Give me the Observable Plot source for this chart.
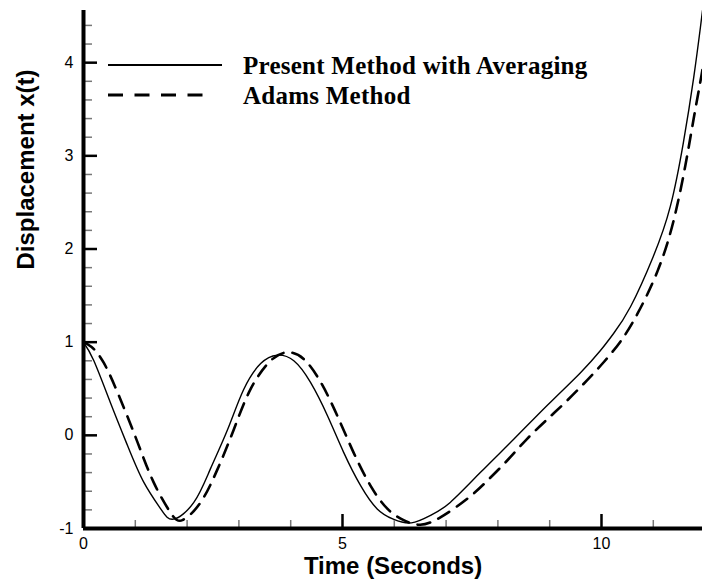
<!DOCTYPE html>
<html>
<head>
<meta charset="utf-8">
<script src="https://cdn.jsdelivr.net/npm/d3@7"></script>
<script src="https://cdn.jsdelivr.net/npm/@observablehq/plot@0.6"></script>
<style>
  html, body { margin: 0; padding: 0; background: #fff; }
  #wrap { position: relative; width: 702px; height: 581px; overflow: hidden; }
  #legend { position: absolute; left: 0; top: 0; }
</style>
</head>
<body>
<div id="wrap"></div>
<script>
// ---- data ----
const seriesNames = ["Present Method with Averaging", "Adams Method"];
const timeSolid = [0, 0.2, 0.52, 0.85, 1.16, 1.49, 1.74, 2.13, 2.45, 2.78, 3.09, 3.42, 3.74, 4.06, 4.38, 4.71, 5.02, 5.35, 5.67, 5.98, 6.33, 6.7, 7.08, 7.66, 8.31, 8.95, 9.59, 9.98, 10.23, 10.56, 11.0, 11.33, 11.58, 11.78, 11.91, 11.95];
const dispSolid = [1.0, 0.8, 0.35, -0.11, -0.5, -0.79, -0.9, -0.72, -0.36, 0.06, 0.49, 0.77, 0.86, 0.8, 0.57, 0.21, -0.18, -0.54, -0.79, -0.9, -0.94, -0.86, -0.72, -0.4, -0.04, 0.32, 0.67, 0.91, 1.09, 1.38, 1.92, 2.46, 3.14, 3.84, 4.38, 4.56];
const timeAdams = [0, 0.15, 0.39, 0.71, 1.04, 1.35, 1.68, 1.91, 2.26, 2.59, 2.9, 3.22, 3.61, 3.94, 4.25, 4.58, 4.9, 5.21, 5.54, 5.87, 6.18, 6.5, 6.89, 7.41, 7.79, 8.18, 8.56, 8.95, 9.33, 9.72, 10.05, 10.37, 10.69, 11.08, 11.39, 11.62, 11.78, 11.91, 11.95];
const dispAdams = [1.0, 0.95, 0.78, 0.39, -0.07, -0.5, -0.83, -0.91, -0.72, -0.36, 0.06, 0.49, 0.8, 0.89, 0.82, 0.57, 0.21, -0.18, -0.54, -0.79, -0.91, -0.96, -0.88, -0.68, -0.49, -0.27, -0.04, 0.17, 0.37, 0.59, 0.79, 1.01, 1.3, 1.76, 2.3, 2.9, 3.4, 3.8, 3.93];
const xMajor = [0, 5, 10];
const xMinor = [1, 2, 3, 4, 6, 7, 8, 9, 11];
const yMajor = [-1, 0, 1, 2, 3, 4];
const yMinor = [-0.8, -0.6, -0.4, -0.2, 0.2, 0.4, 0.6, 0.8, 1.2, 1.4, 1.6, 1.8, 2.2, 2.4, 2.6, 2.8, 3.2, 3.4, 3.6, 3.8, 4.2, 4.4];
const xTitle = "Time (Seconds)";
const yTitle = "Displacement x(t)";

const solid = timeSolid.map((t, i) => ({t, v: dispSolid[i]}));
const adams = timeAdams.map((t, i) => ({t, v: dispAdams[i]}));

const chart = Plot.plot({
  width: 702,
  height: 581,
  marginLeft: 83,
  marginRight: 0,
  marginTop: 10,
  marginBottom: 53,
  style: {fontFamily: "'Liberation Sans', Arial, Helvetica, sans-serif", fontSize: "16px", background: "#fff", color: "#000", overflow: "visible"},
  x: {domain: [0, 11.95], ticks: xMajor, tickSize: 0, tickPadding: 9, tickFormat: d => String(d), label: null},
  y: {domain: [-1, 4.56], ticks: yMajor, tickSize: 0, tickPadding: 10, tickFormat: d => String(d), label: null},
  marks: [
    Plot.line(solid, {x: "t", y: "v", stroke: "#000", strokeWidth: 1.4, curve: "natural", clip: true}),
    Plot.line(adams, {x: "t", y: "v", stroke: "#000", strokeWidth: 2.6, strokeDasharray: "13,9", curve: "natural", clip: true}),
    Plot.ruleY(yMinor, {x1: 0, x2: 0, insetRight: -9, stroke: "#777", strokeWidth: 1.5}),
    Plot.ruleY(yMajor, {x1: 0, x2: 0, insetRight: -14, stroke: "#000", strokeWidth: 2.5}),
    Plot.ruleX(xMinor, {y1: -1, y2: -1, insetBottom: 8, stroke: "#777", strokeWidth: 1.5}),
    Plot.ruleX(xMajor, {y1: -1, y2: -1, insetBottom: 14, stroke: "#000", strokeWidth: 2.5}),
    Plot.ruleX([0], {stroke: "#000", strokeWidth: 4}),
    Plot.ruleY([-1], {stroke: "#000", strokeWidth: 4}),
    Plot.text([xTitle], {frameAnchor: "bottom", dy: 45, text: d => d, fontSize: 24, fontWeight: "bold", lineAnchor: "bottom"}),
    Plot.text([yTitle], {frameAnchor: "left", dx: -50, rotate: -90, text: d => d, fontSize: 24, fontWeight: "bold", lineAnchor: "bottom"})
  ]
});

const wrap = document.getElementById("wrap");
wrap.appendChild(chart);

// legend overlay (inside the plot area, top-left)
const svgNS = "http://www.w3.org/2000/svg";
const leg = document.createElementNS(svgNS, "svg");
leg.id = "legend";
leg.setAttribute("width", 702); leg.setAttribute("height", 130);
leg.style.position = "absolute"; leg.style.left = "0px"; leg.style.top = "0px";
const rows = [
  {name: seriesNames[0], dash: null, width: 1.8, lineY: 65, baseline: 74},
  {name: seriesNames[1], dash: "15,11.5", width: 2.8, lineY: 95, baseline: 104}
];
rows.forEach(r => {
  const l = document.createElementNS(svgNS, "line");
  l.setAttribute("x1", 108); l.setAttribute("x2", r.dash ? 206 : 222);
  l.setAttribute("y1", r.lineY); l.setAttribute("y2", r.lineY);
  l.setAttribute("stroke", "#000"); l.setAttribute("stroke-width", r.width);
  if (r.dash) l.setAttribute("stroke-dasharray", r.dash);
  leg.appendChild(l);
  const t = document.createElementNS(svgNS, "text");
  t.setAttribute("x", 243); t.setAttribute("y", r.baseline);
  t.setAttribute("font-family", "'Liberation Serif', 'Times New Roman', serif");
  t.setAttribute("font-weight", "bold");
  t.setAttribute("font-size", 25);
  t.setAttribute("letter-spacing", "0.25");
  t.textContent = r.name;
  leg.appendChild(t);
});
wrap.appendChild(leg);
</script>
</body>
</html>
